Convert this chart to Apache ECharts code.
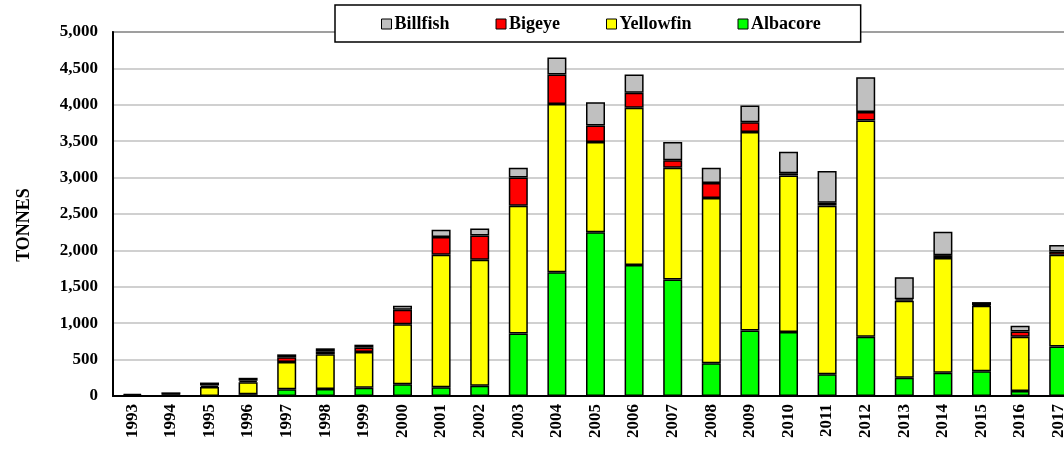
<!DOCTYPE html>
<html>
<head>
<meta charset="utf-8">
<script src="https://cdn.jsdelivr.net/npm/echarts@6/dist/echarts.min.js"></script>
<style>
html,body{margin:0;padding:0;background:#fff;}
#c{width:1064px;height:450px;}
</style>
</head>
<body>
<div id="c"></div>
<script>
const years = ['1993','1994','1995','1996','1997','1998','1999','2000','2001','2002','2003','2004','2005','2006','2007','2008','2009','2010','2011','2012','2013','2014','2015','2016','2017'];
const albacore  = [0, 0, 0, 25, 92, 95, 115, 160, 120, 140, 860, 1700, 2250, 1800, 1600, 450, 900, 880, 300, 815, 250, 320, 340, 70, 680];
const yellowfin = [5, 10, 125, 165, 375, 480, 490, 825, 1820, 1730, 1755, 2310, 1240, 2160, 1535, 2270, 2725, 2150, 2315, 2970, 1060, 1575, 900, 745, 1260];
const bigeye    = [5, 10, 20, 20, 65, 40, 60, 200, 245, 335, 385, 405, 225, 205, 105, 205, 135, 30, 40, 115, 20, 40, 10, 70, 45];
const billfish  = [20, 30, 40, 40, 40, 40, 40, 55, 100, 95, 135, 235, 320, 250, 250, 210, 230, 295, 435, 480, 300, 320, 40, 80, 90];
const legendOrder = ['Billfish','Bigeye','Yellowfin','Albacore'];
const yTitle = 'TONNES';

const font = '"Liberation Serif", "Times New Roman", serif';
function mk(name, data, color){
  return {
    name: name, type: 'bar', stack: 'total', data: data, barWidth: 19,
    itemStyle: {color: color, borderColor: '#000', borderWidth: 1.5},
    emphasis: {disabled: true}
  };
}
const chart = echarts.init(document.getElementById('c'), null, {renderer: 'canvas'});
chart.setOption({
  animation: false,
  backgroundColor: '#fff',
  legend: {
    data: legendOrder,
    left: 335, top: 5,
    padding: [10, 40, 9, 46],
    itemGap: 46,
    itemWidth: 10, itemHeight: 10,
    icon: 'rect',
    backgroundColor: '#fff',
    borderColor: '#000', borderWidth: 1.5,
    itemStyle: {borderColor: '#000', borderWidth: 1},
    textStyle: {fontFamily: font, fontWeight: 'bold', fontSize: 18, color: '#000', padding: [0,0,0,-2]},
    z: 10
  },
  grid: {
    left: 113, top: 32, height: 364, width: 965,
    outerBoundsMode: 'none', containLabel: false,
    show: true, borderColor: '#000', borderWidth: 1.5, backgroundColor: 'transparent'
  },
  graphic: [{
    type: 'text', x: 24, y: 225, rotation: Math.PI / 2,
    style: {text: yTitle, fontFamily: font, fontWeight: 'bold', fontSize: 18, fill: '#000', textAlign: 'center', textVerticalAlign: 'middle'}
  }],
  xAxis: {
    type: 'category', data: years,
    axisLine: {show: true, lineStyle: {color: '#000', width: 2}},
    axisTick: {show: false},
    axisLabel: {rotate: 90, interval: 0, fontFamily: font, fontWeight: 'bold', fontSize: 17, color: '#000', margin: 8}
  },
  yAxis: {
    type: 'value', min: 0, max: 5000, interval: 500,
    axisLine: {show: true, lineStyle: {color: '#000', width: 2}},
    axisTick: {show: false},
    splitLine: {lineStyle: {color: '#c0c0c0', width: 1.5}},
    axisLabel: {
      fontFamily: font, fontWeight: 'bold', fontSize: 17, color: '#000', margin: 15,
      formatter: v => v.toLocaleString('en-US')
    }
  },
  series: [
    mk('Albacore', albacore, '#00ff00'),
    mk('Yellowfin', yellowfin, '#ffff00'),
    mk('Bigeye', bigeye, '#ff0000'),
    mk('Billfish', billfish, '#c0c0c0')
  ]
});
</script>
</body>
</html>
